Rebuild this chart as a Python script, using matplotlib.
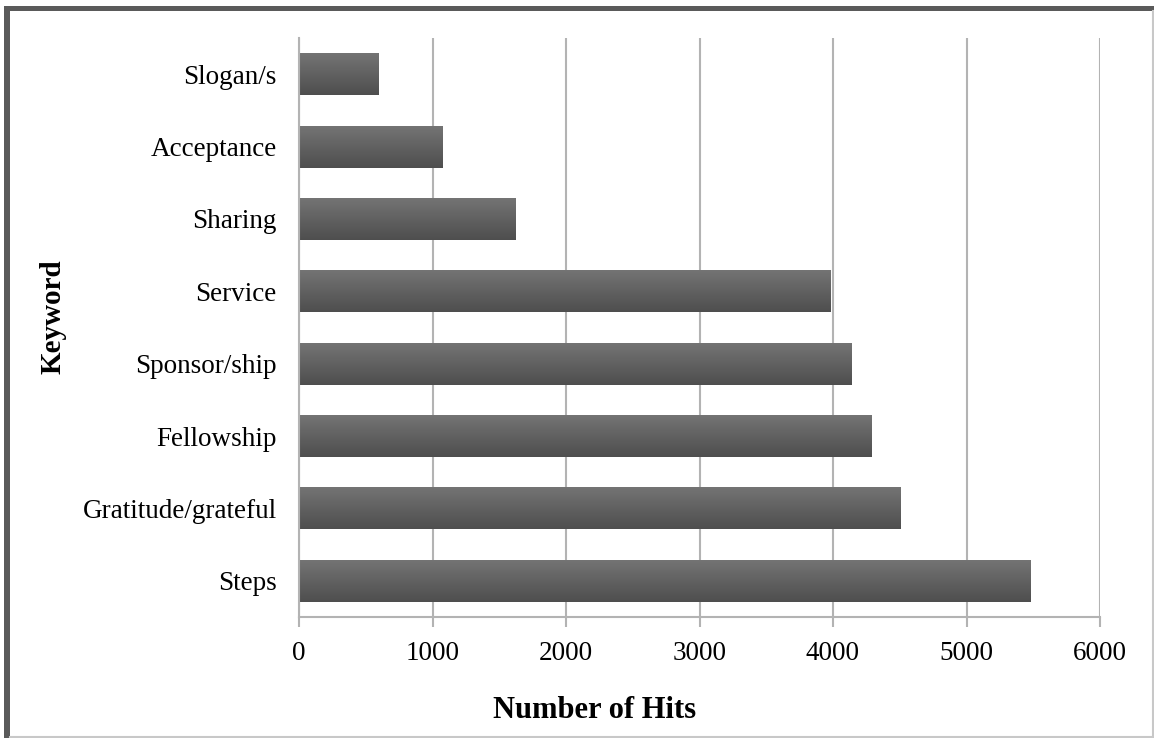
import matplotlib
matplotlib.use("Agg")
import matplotlib.pyplot as plt
import numpy as np
from matplotlib.patches import Rectangle
from matplotlib.lines import Line2D
from matplotlib.colors import LinearSegmentedColormap

keywords = ["Steps", "Gratitude/grateful", "Fellowship", "Sponsor/ship",
            "Service", "Sharing", "Acceptance", "Slogan/s"]
hits = [5476, 4504, 4287, 4137, 3980, 1623, 1075, 598]
xticks = [0, 1000, 2000, 3000, 4000, 5000, 6000]

plt.rcParams['font.family'] = ['Liberation Serif', 'DejaVu Serif']

W, H = 1154, 738
fig = plt.figure(figsize=(W / 100, H / 100), dpi=100)
fig.patch.set_facecolor('white')
ax = fig.add_axes([299 / W, 1 - 617 / H, (1100 - 299) / W, (617 - 38) / H])

grid_c = '#b3b3b3'
bars = ax.barh(range(len(keywords)), hits, height=0.58, color='#5f5f5f',
               edgecolor='none', zorder=2)

# vertical gradient fill for each bar
grad = np.linspace(0, 1, 256).reshape(-1, 1)
cmap = LinearSegmentedColormap.from_list('g', ['#747474', '#4e4e4e'])
for b in bars:
    x0, y0 = b.get_x(), b.get_y()
    w, h = b.get_width(), b.get_height()
    im = ax.imshow(grad, cmap=cmap, aspect='auto', origin='lower',
                   extent=[x0, x0 + w, y0 + h, y0], zorder=3,
                   interpolation='bilinear')
    im.set_clip_path(b)

ax.set_xlim(0, 6000)
ax.set_ylim(-0.5, len(keywords) - 0.5)
ax.set_xticks(xticks)
ax.set_xticklabels([str(t) for t in xticks], fontsize=19.5)
ax.set_yticks(range(len(keywords)))
ax.set_yticklabels(keywords, fontsize=19.5)

ax.grid(axis='x', color=grid_c, linewidth=1.5, zorder=1)
ax.set_axisbelow(True)
for s in ['top', 'right']:
    ax.spines[s].set_visible(False)
for s in ['left', 'bottom']:
    ax.spines[s].set_color(grid_c)
    ax.spines[s].set_linewidth(1.5)
    ax.spines[s].set_zorder(4)
ax.tick_params(axis='x', length=7, width=1.5, color=grid_c, pad=10)
ax.tick_params(axis='y', length=0, pad=16)

ax.set_xlabel('Number of Hits', fontsize=22, fontweight='bold')
ax.set_ylabel('Keyword', fontsize=21, fontweight='bold')
ax.yaxis.set_label_coords((53 - 299) / (1100 - 299), (617 - 317) / (617 - 38))
ax.xaxis.set_label_coords((595 - 299) / (1100 - 299), (617 - 710) / (617 - 38))
ax.xaxis.label.set_va('center')
ax.yaxis.label.set_va('center')

# outer frame
fig.add_artist(Rectangle((4 / W, 1 - 11 / H), (W - 4) / W, 5 / H,
                         transform=fig.transFigure, facecolor='#5a5a5a',
                         edgecolor='none'))
fig.add_artist(Rectangle((4 / W, 0), 6 / W, 1 - 6 / H,
                         transform=fig.transFigure, facecolor='#5a5a5a',
                         edgecolor='none'))
fig.add_artist(Line2D([10 / W, 1], [1.2 / H, 1.2 / H], transform=fig.transFigure,
                      color='#c8c8c8', linewidth=1.5))
fig.add_artist(Line2D([1 - 1.5 / W, 1 - 1.5 / W], [0, 1 - 11 / H],
                      transform=fig.transFigure, color='#c8c8c8', linewidth=1.5))

fig.savefig('out.png', dpi=100, facecolor='white')
